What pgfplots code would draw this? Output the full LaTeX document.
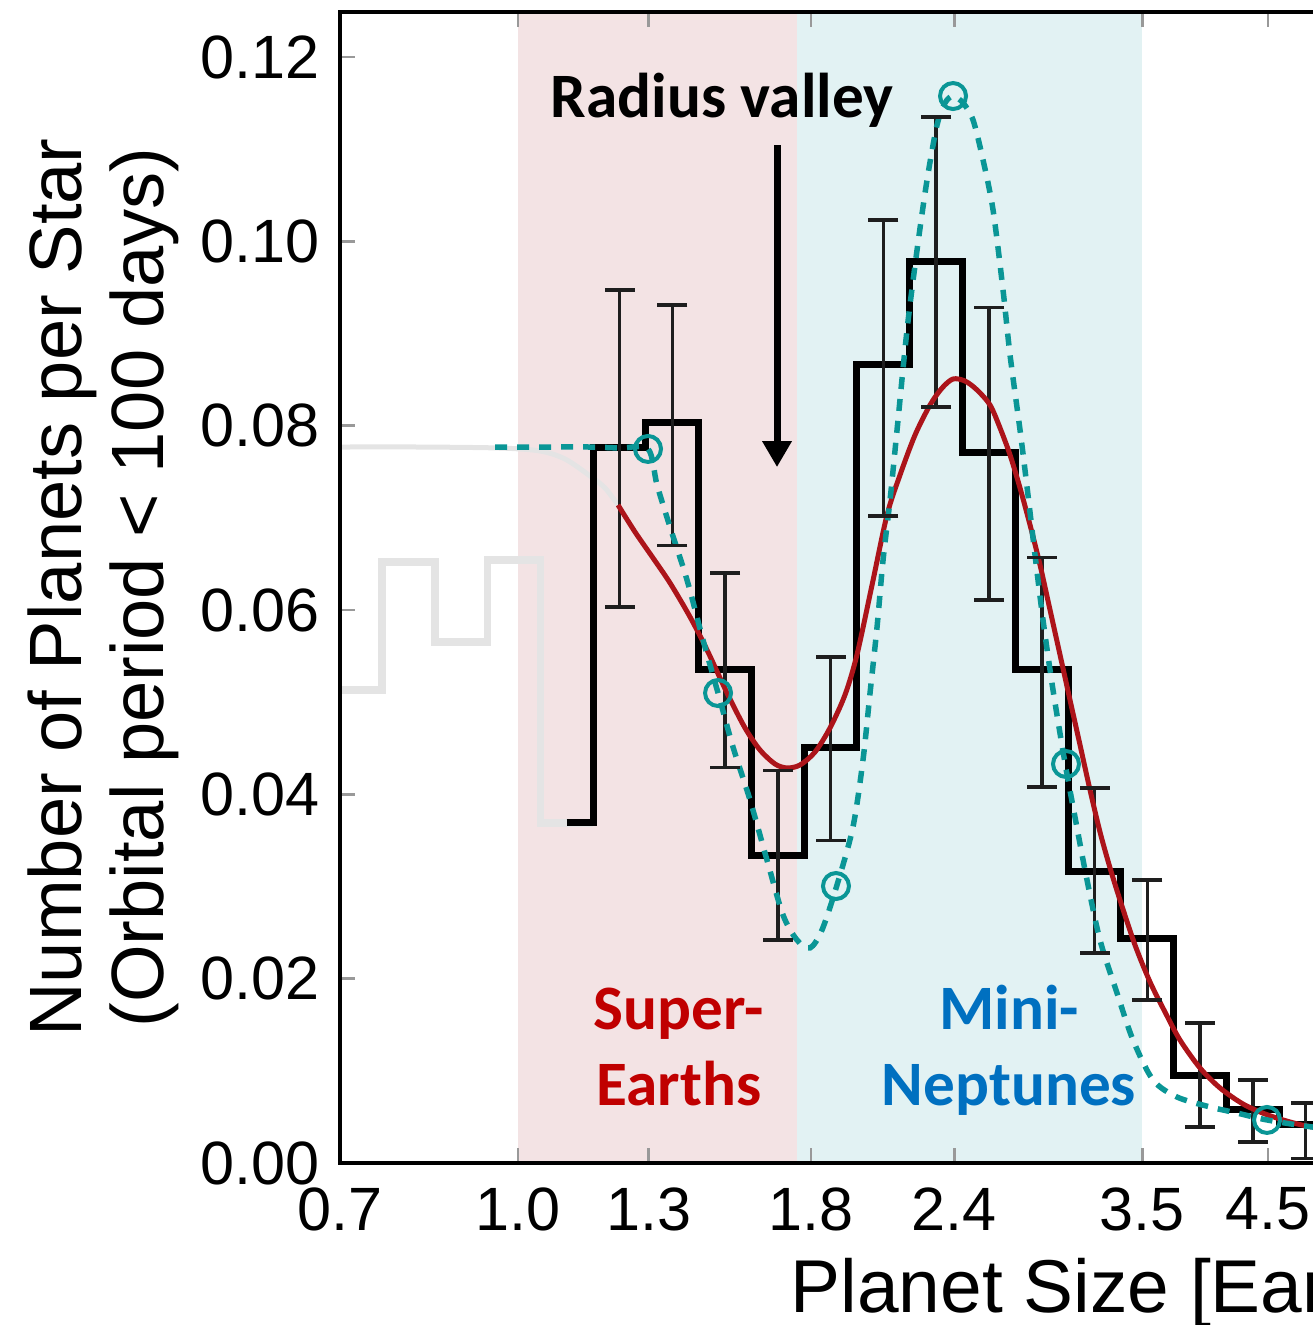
\documentclass[border=0pt]{standalone}
\usepackage{pgfplots}
\pgfplotsset{compat=1.18}
\usepackage{fontspec}
\setmainfont{Liberation Sans}
\newfontfamily\calibri{Carlito}
\usetikzlibrary{arrows.meta}
\definecolor{pinkbg}{RGB}{243,227,228}
\definecolor{cyanbg}{RGB}{226,242,243}
\definecolor{fitred}{RGB}{172,20,26}
\definecolor{tealc}{RGB}{10,150,150}
\definecolor{lgray}{RGB}{228,228,228}
\definecolor{errc}{RGB}{30,30,30}
\definecolor{serred}{RGB}{192,0,0}
\definecolor{nepblue}{RGB}{0,112,192}

\begin{document}
\begin{tikzpicture}
\useasboundingbox (-34mm,-16.2mm) rectangle (97.2mm,116.3mm);
\begin{axis}[
  at={(0,0)}, anchor=south west,
  scale only axis, width=102.78mm, height=115.1mm,
  xmode=log, xmin=0.7, xmax=5.5, ymin=0, ymax=0.12488,
  xtick={0.7,1.0,1.3,1.8,2.4,3.5,4.5},
  xticklabels={0.7,1.0,1.3,1.8,2.4,3.5,4.5},
  xminorticks=false, yminorticks=false,
  ytick={0,0.02,0.04,0.06,0.08,0.10,0.12},
  yticklabels={0.00,0.02,0.04,0.06,0.08,0.10,0.12},
  tick align=inside, major tick length=1.5mm,
  tick style={draw=gray!80, line width=0.25mm},
  axis line style={line width=0.35mm},
  axis on top,
  tick label style={font=\fontsize{17.4}{20}\selectfont},
  xticklabel style={yshift=-1.2mm},
  yticklabel style={xshift=-0.8mm},
  /pgf/number format/assume math mode=true,
  xlabel={Planet Size [Earth radii]},
  xlabel style={font=\fontsize{21.3}{24}\selectfont, at={(axis description cs:0.4378,0)}, anchor=base west, inner sep=0pt, yshift=-14.9mm},
  ylabel={Number of Planets per Star\\(Orbital period < 100 days)},
  ylabel style={font=\fontsize{21.1}{23.5}\selectfont, align=center, at={(axis description cs:-0.1557,0.5)}, anchor=south, inner sep=0pt},
  clip=true,
]
% shaded regions
\addplot[fill=pinkbg, draw=none] coordinates {(1.0,0) (1.0,0.13) (1.75,0.13) (1.75,0)} -- cycle;
\addplot[fill=cyanbg, draw=none] coordinates {(1.75,0) (1.75,0.13) (3.5,0.13) (3.5,0)} -- cycle;

% gray histogram (below completeness limit)
\addplot[const plot, lgray, line width=0.75mm, line join=miter] coordinates {
(0.7,0.0513) (0.7615,0.0652) (0.8467,0.0565) (0.9412,0.0654) (1.0461,0.0369) (1.1631,0.0369)};

% gray extension of the fit
\addplot[lgray, line width=0.5mm, smooth] coordinates {
(0.7,0.07768) (0.8218,0.07768) (0.9649,0.07757) (1.0455,0.07725) (1.0992,0.07638) (1.1558,0.07454) (1.1911,0.07323) (1.2225,0.07139)};

% black histogram
\addplot[const plot, black, line width=0.7mm, line join=miter] coordinates {
(1.103,0.0369) (1.1631,0.0776) (1.2930,0.0803) (1.4376,0.0535) (1.5975,0.0334) (1.7763,0.0451)
(1.9743,0.0866) (2.1947,0.0978) (2.4400,0.0771) (2.7129,0.0535) (3.0160,0.0316) (3.3527,0.0244)
(3.7270,0.0095) (4.1418,0.0058) (4.6053,0.0042) (5.1199,0.0030) (5.5,0.0030)};

% error bars (bars)
\addplot[draw=none, mark=none, error bars/.cd, y dir=both, y explicit,
  error mark=none,
  error bar style={draw=errc, line width=0.35mm}] coordinates {
(1.2263,0.0776) += (0,0.0171) -= (0,0.0173)
(1.3634,0.0803) += (0,0.0128) -= (0,0.0133)
(1.5154,0.0535) += (0,0.0105) -= (0,0.0106)
(1.6845,0.0334) += (0,0.0092) -= (0,0.0092)
(1.8727,0.0451) += (0,0.0098) -= (0,0.0101)
(2.0816,0.0866) += (0,0.0157) -= (0,0.0164)
(2.3141,0.0978) += (0,0.0157) -= (0,0.0158)
(2.5728,0.0771) += (0,0.0157) -= (0,0.0160)
(2.8604,0.0535) += (0,0.0122) -= (0,0.0127)
(3.1799,0.0316) += (0,0.0091) -= (0,0.0088)
(3.5349,0.0244) += (0,0.0063) -= (0,0.0067)
(3.9289,0.0095) += (0,0.0057) -= (0,0.0056)
(4.3674,0.0058) += (0,0.0032) -= (0,0.0035)
(4.8558,0.0038) += (0,0.0027) -= (0,0.0033)
};
% error bar caps (ends of the bars)
\addplot[only marks, mark=-, mark size=1.5mm, mark options={draw=errc, line width=0.35mm}] coordinates {
(1.2263,0.0947) (1.2263,0.0603) (1.3634,0.0931) (1.3634,0.0670) (1.5154,0.0640) (1.5154,0.0429)
(1.6845,0.0426) (1.6845,0.0242) (1.8727,0.0549) (1.8727,0.0350) (2.0816,0.1023) (2.0816,0.0702)
(2.3141,0.1135) (2.3141,0.0820) (2.5728,0.0928) (2.5728,0.0611) (2.8604,0.0657) (2.8604,0.0408)
(3.1799,0.0407) (3.1799,0.0228) (3.5349,0.0307) (3.5349,0.0177) (3.9289,0.0152) (3.9289,0.0039)
(4.3674,0.0090) (4.3674,0.0023) (4.8558,0.0065) (4.8558,0.0005)};

% red fit
\addplot[fitred, line width=0.5mm, smooth] coordinates {
(1.2225,0.07139) (1.2649,0.06846) (1.3114,0.06564) (1.3569,0.06293) (1.4125,0.05924) (1.4615,0.05566)
(1.5213,0.05099) (1.5772,0.04720) (1.6254,0.04481) (1.6750,0.04329) (1.7158,0.04286) (1.7611,0.04318)
(1.8149,0.04459) (1.8704,0.04720) (1.9275,0.05078) (1.9744,0.05512) (2.0348,0.06271) (2.0969,0.07031)
(2.1523,0.07465) (2.2180,0.07898) (2.2858,0.08224) (2.3415,0.08408) (2.3937,0.08506) (2.4520,0.08484)
(2.5117,0.08387) (2.5781,0.08224) (2.6303,0.07975) (2.6836,0.07682) (2.7380,0.07323) (2.7935,0.06922)
(2.8501,0.06488) (2.9078,0.06000) (2.9667,0.05512) (3.0268,0.05023) (3.0881,0.04535) (3.1507,0.04047)
(3.2145,0.03591) (3.2797,0.03201) (3.3461,0.02853) (3.4483,0.02365) (3.5536,0.01964) (3.6622,0.01638)
(3.7740,0.01334) (3.9285,0.01031) (4.0893,0.00814) (4.2824,0.00640) (4.4756,0.00532) (4.7057,0.00445)
(4.9180,0.00391) (5.5,0.0030)};

% teal dashed model
\addplot[tealc, line width=0.55mm, dash pattern=on 1.2mm off 1.0mm, smooth, tension=0.5] coordinates {
(0.9553,0.07768) (1.0455,0.07768) (1.1558,0.07768) (1.2274,0.07757) (1.2983,0.07747) (1.3220,0.07356)
(1.3569,0.06900) (1.4040,0.06325) (1.4498,0.05674) (1.4941,0.05099) (1.5397,0.04513) (1.5931,0.03938)
(1.6483,0.03287) (1.7021,0.02691) (1.7506,0.02419) (1.7968,0.02333) (1.8406,0.02528) (1.8968,0.03016)
(1.9587,0.03645) (1.9984,0.04372) (2.0266,0.05099) (2.0553,0.05815) (2.0802,0.06542) (2.1096,0.07193)
(2.1394,0.07953) (2.1827,0.09038) (2.2270,0.09906) (2.2721,0.10665) (2.3181,0.11262) (2.3556,0.11501)
(2.3937,0.11576) (2.4422,0.11501) (2.4917,0.11316) (2.5422,0.10882) (2.5937,0.10340) (2.6462,0.09472)
(2.6836,0.08766) (2.7380,0.07953) (2.7767,0.07334) (2.8216,0.06597) (2.8673,0.05891) (2.9253,0.05132)
(2.9966,0.04340) (3.0696,0.03635) (3.1318,0.03070) (3.2145,0.02419) (3.3260,0.01844) (3.4345,0.01334)
(3.5751,0.00901) (3.7514,0.00716) (4.0081,0.00608) (4.2311,0.00542) (4.4935,0.00467) (4.9180,0.00391)
(5.5,0.0033)};

% circles
\addplot[only marks, mark=o, mark size=1.3mm, mark options={tealc, line width=0.4mm}] coordinates {
(1.2983,0.07747) (1.4941,0.05099) (1.8930,0.03005) (2.3937,0.11576) (3.0026,0.04329) (4.4935,0.00467)};

% annotations
\node[anchor=base, font=\fontsize{18}{20}\selectfont\calibri\bfseries] at (axis cs:1.5061,0.11338) {Radius valley};
\draw[line width=0.7mm, -{Triangle[width=2.8mm,length=2.6mm]}] (axis cs:1.6817,0.1104) -- (axis cs:1.6817,0.0755);
\node[anchor=base, text=serred, font=\fontsize{18}{20}\selectfont\calibri\bfseries] at (axis cs:1.3816,0.01443) {Super-};
\node[anchor=base, text=serred, font=\fontsize{18}{20}\selectfont\calibri\bfseries] at (axis cs:1.3816,0.00629) {Earths};
\node[anchor=base, text=nepblue, font=\fontsize{18}{20}\selectfont\calibri\bfseries] at (axis cs:2.6783,0.01443) {Mini-};
\node[anchor=base, text=nepblue, font=\fontsize{18}{20}\selectfont\calibri\bfseries] at (axis cs:2.6783,0.00629) {Neptunes};
\end{axis}
\end{tikzpicture}
\end{document}
